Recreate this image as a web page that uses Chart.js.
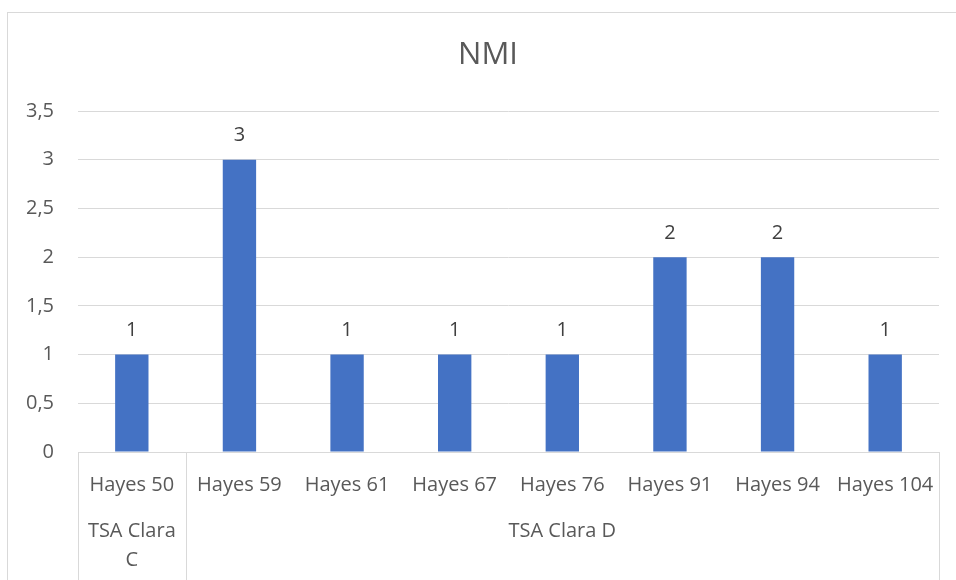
<!DOCTYPE html>
<html>
<head>
<meta charset="utf-8">
<style>
  html, body { margin: 0; padding: 0; background: #fff; }
  #wrap { width: 956px; height: 580px; position: relative; }
</style>
<script src="https://cdn.jsdelivr.net/npm/chart.js@4"></script>
</head>
<body>
<div id="wrap"><canvas id="nmiChart" width="956" height="580"></canvas></div>
<script>
const categories = ["Hayes 50", "Hayes 59", "Hayes 61", "Hayes 67", "Hayes 76", "Hayes 91", "Hayes 94", "Hayes 104"];
const nmiValues = [1, 3, 1, 1, 1, 2, 2, 1];
const groups = [
  { label: ["TSA Clara", "C"], from: 0, to: 0 },
  { label: ["TSA Clara D"], from: 1, to: 7 }
];
const yTicks = [0, 0.5, 1, 1.5, 2, 2.5, 3, 3.5];
const chartTitle = "NMI";

const textColor = "#595959";
const lineColor = "#d9d9d9";
const fontFamily = "'Open Sans', 'Noto Sans', sans-serif";

// frame, title, data labels and the second row of the category axis
const extras = {
  id: "extras",
  beforeDraw(chart) {
    const c = chart.ctx;
    c.save();
    c.fillStyle = "#fff";
    c.fillRect(0, 0, chart.width, chart.height);
    c.strokeStyle = lineColor;
    c.lineWidth = 1;
    c.strokeRect(7.5, 12.5, chart.width + 20, chart.height + 20);
    c.fillStyle = textColor;
    c.font = "31px " + fontFamily;
    c.textAlign = "center";
    c.textBaseline = "middle";
    c.fillText(chartTitle, 488, 55);
    c.restore();
  },
  afterDatasetsDraw(chart) {
    const c = chart.ctx;
    const meta = chart.getDatasetMeta(0);
    c.save();
    c.fillStyle = "#404040";
    c.font = "20px " + fontFamily;
    c.textAlign = "center";
    c.textBaseline = "middle";
    meta.data.forEach((bar, i) => {
      c.fillText(String(nmiValues[i]), bar.x, bar.y - 24);
    });
    c.restore();
  },
  afterDraw(chart) {
    const c = chart.ctx;
    const x = chart.scales.x;
    const half = (x.getPixelForValue(1) - x.getPixelForValue(0)) / 2;
    const top = x.top;
    c.save();
    c.strokeStyle = lineColor;
    c.lineWidth = 1;
    const edges = [x.left];
    groups.forEach(g => edges.push(x.getPixelForValue(g.to) + half));
    edges.forEach(px => {
      const xx = Math.round(px) + 0.5;
      c.beginPath();
      c.moveTo(xx, top);
      c.lineTo(xx, chart.height);
      c.stroke();
    });
    c.fillStyle = textColor;
    c.font = "20px " + fontFamily;
    c.textAlign = "center";
    c.textBaseline = "middle";
    groups.forEach(g => {
      const cx = (x.getPixelForValue(g.from) + x.getPixelForValue(g.to)) / 2;
      g.label.forEach((line, k) => {
        c.fillText(line, cx, top + 79 + k * 29);
      });
    });
    c.restore();
  }
};

const ctx = document.getElementById("nmiChart").getContext("2d");

new Chart(ctx, {
  type: "bar",
  data: {
    labels: categories,
    datasets: [{
      label: chartTitle,
      data: nmiValues,
      backgroundColor: "#4472C4",
      barPercentage: 0.31,
      categoryPercentage: 1
    }]
  },
  options: {
    responsive: false,
    animation: false,
    layout: { padding: { left: 0, right: 17, top: 111, bottom: 0 } },
    plugins: {
      legend: { display: false },
      tooltip: { enabled: false },
      title: { display: false }
    },
    scales: {
      x: {
        grid: { display: false, drawTicks: false },
        border: { display: true, color: lineColor },
        ticks: {
          color: textColor,
          font: { family: fontFamily, size: 20 },
          padding: 21,
          maxRotation: 0,
          autoSkip: false
        },
        afterFit(scale) { scale.height = 128; }
      },
      y: {
        min: 0,
        max: 3.5,
        afterBuildTicks(scale) { scale.ticks = yTicks.map(v => ({ value: v })); },
        grid: { color: lineColor, drawTicks: false },
        border: { display: false },
        ticks: {
          color: textColor,
          font: { family: fontFamily, size: 20 },
          padding: 24,
          callback: v => String(v).replace(".", ",")
        },
        afterFit(scale) { scale.width = 78; }
      }
    }
  },
  plugins: [extras]
});
</script>
</body>
</html>
